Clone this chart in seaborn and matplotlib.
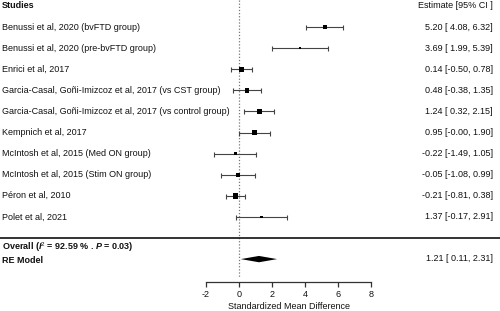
import numpy as np
import pandas as pd
import matplotlib
matplotlib.use("Agg")
import matplotlib.pyplot as plt
import matplotlib.transforms as mtransforms
from matplotlib.patches import Polygon
import seaborn as sns

studies = [
    "Benussi et al, 2020 (bvFTD group)",
    "Benussi et al, 2020 (pre-bvFTD group)",
    "Enrici et al, 2017",
    "Garcia-Casal, Goñi-Imizcoz et al, 2017 (vs CST group)",
    "Garcia-Casal, Goñi-Imizcoz et al, 2017 (vs control group)",
    "Kempnich et al, 2017",
    "McIntosh et al, 2015 (Med ON group)",
    "McIntosh et al, 2015 (Stim ON group)",
    "Péron et al, 2010",
    "Polet et al, 2021",
]
estimates = [5.20, 3.69, 0.14, 0.48, 1.24, 0.95, -0.22, -0.05, -0.21, 1.37]
ci_low = [4.08, 1.99, -0.50, -0.38, 0.32, -0.00, -1.49, -1.08, -0.81, -0.17]
ci_high = [6.32, 5.39, 0.78, 1.35, 2.15, 1.90, 1.05, 0.99, 0.38, 2.91]
ci_labels = ["5.20 [ 4.08, 6.32]", "3.69 [ 1.99, 5.39]", "0.14 [-0.50, 0.78]",
             "0.48 [-0.38, 1.35]", "1.24 [ 0.32, 2.15]", "0.95 [-0.00, 1.90]",
             "-0.22 [-1.49, 1.05]", "-0.05 [-1.08, 0.99]", "-0.21 [-0.81, 0.38]",
             "1.37 [-0.17, 2.91]"]
box_side = [4.5, 1.8, 5.2, 4.5, 4.6, 4.7, 3.3, 3.8, 5.8, 2.3]  # relative weight (px)
overall_est = 1.21
overall_low = 0.11
overall_high = 2.31
overall_label = "1.21 [ 0.11, 2.31]"
xticks = [-2, 0, 2, 4, 6, 8]

sns.set_style("white")
plt.rcParams["font.family"] = ["Liberation Sans", "DejaVu Sans"]
plt.rcParams["mathtext.fontset"] = "custom"
plt.rcParams["mathtext.rm"] = "Liberation Sans"
plt.rcParams["mathtext.it"] = "Liberation Sans:italic"
plt.rcParams["mathtext.bf"] = "Liberation Sans:bold"
plt.rcParams["mathtext.bfit"] = "Liberation Sans:italic:bold"

FS = 6.5
TC = "#111111"

df = pd.DataFrame({"study": studies, "est": estimates, "lo": ci_low, "hi": ci_high,
                   "row": np.arange(1, len(studies) + 1),
                   "area": (np.array(box_side) * 0.72) ** 2})

fig = plt.figure(figsize=(5, 3.11), dpi=100)
ax = fig.add_axes([0, 0, 1, 1])
ppu = 16.5
x0 = 239.0
ax.set_xlim(-x0 / ppu, (500 - x0) / ppu)
ax.set_ylim((311 - 5.9) / 21.1, -5.9 / 21.1)

# reference line at 0
ax.plot([0, 0], [-0.3, 12.9], color="#777777", lw=0.9, ls=(0, (1, 1.5)), zorder=1)

# CIs
ax.errorbar(df["est"], df["row"], xerr=[df["est"] - df["lo"], df["hi"] - df["est"]],
            fmt="none", ecolor="#444444", elinewidth=0.8, capsize=1.8, capthick=0.8, zorder=2)
sns.scatterplot(data=df, x="est", y="row", marker="s", color="black", s=df["area"].values,
                linewidth=0, legend=False, ax=ax, zorder=3)

# separator
ax.axhline(11.0, color="#111111", lw=1.2)

# overall diamond
yd = 12.0
hh = 0.15
ax.add_patch(Polygon([[overall_low, yd], [overall_est, yd - hh], [overall_high, yd],
                      [overall_est, yd + hh]], closed=True, color="black", lw=0))

# text columns
tl = mtransforms.blended_transform_factory(fig.transFigure, ax.transData)
xl = 2 / 500
xr = 493 / 500
ax.text(xl, 0, "Studies", transform=tl, ha="left", va="center", fontsize=FS,
        fontweight="bold", color=TC)
ax.text(xr, 0, "Estimate [95% CI ]", transform=tl, ha="right", va="center", fontsize=FS,
        color=TC)
for r, s, lab in zip(df["row"], studies, ci_labels):
    ax.text(xl, r, s, transform=tl, ha="left", va="center", fontsize=FS, color=TC)
    ax.text(xr, r, lab, transform=tl, ha="right", va="center", fontsize=FS, color=TC)
ax.text(xl, 11.43, r"Overall ($\mathbfit{I}^2$ = 92.59 % . $\mathbfit{P}$ = 0.03)",
        transform=tl, ha="left", va="center", fontsize=FS, fontweight="bold", color=TC)
ax.text(xl, 12.09, "RE Model", transform=tl, ha="left", va="center", fontsize=FS,
        fontweight="bold", color=TC)
ax.text(xr, 11.95, overall_label, transform=tl, ha="right", va="center", fontsize=FS,
        color=TC)

# x axis
for sp in ["top", "left", "right"]:
    ax.spines[sp].set_visible(False)
ax.spines["bottom"].set_position(("data", (282 - 5.9) / 21.1))
ax.spines["bottom"].set_bounds(-2, 8)
ax.spines["bottom"].set_color("#333333")
ax.spines["bottom"].set_linewidth(0.9)
ax.set_xticks(xticks)
ax.set_xticklabels([str(t) for t in xticks])
ax.tick_params(axis="x", bottom=True, direction="out", length=3.5, width=0.9,
               color="#333333", labelsize=FS, pad=2, labelcolor=TC)
ax.set_yticks([])
ax.set_xlabel("")
ax.set_ylabel("")
ax.text(3, (306.5 - 5.9) / 21.1, "Standardized Mean Difference", ha="center", va="center",
        fontsize=FS, color=TC)

fig.savefig("out.png", dpi=100)
